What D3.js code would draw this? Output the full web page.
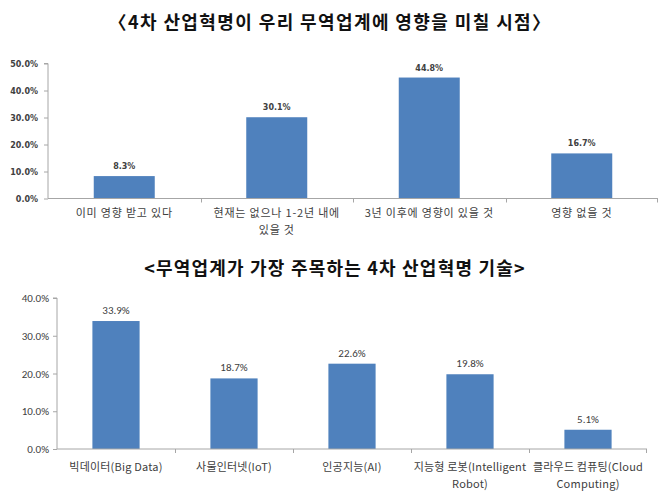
<!DOCTYPE html>
<html><head><meta charset="utf-8">
<script src="https://cdn.jsdelivr.net/npm/d3@7"></script>
<style>body{margin:0;background:#fff}svg{display:block}</style>
</head><body>
<svg id="c" width="658" height="493"></svg>
<script>
const title1 = "〈4차 산업혁명이 우리 무역업계에 영향을 미칠 시점〉";
const categories1 = ["이미 영향 받고 있다", "현재는 없으나 1-2년 내에\n있을 것", "3년 이후에 영향이 있을 것", "영향 없을 것"];
const values1 = [8.3, 30.1, 44.8, 16.7];
const ticks1 = [0, 10, 20, 30, 40, 50];

const title2 = "<무역업계가 가장 주목하는 4차 산업혁명 기술>";
const categories2 = ["빅데이터(Big Data)", "사물인터넷(IoT)", "인공지능(AI)", "지능형 로봇(Intelligent\nRobot)", "클라우드 컴퓨팅(Cloud\nComputing)"];
const values2 = [33.9, 18.7, 22.6, 19.8, 5.1];
const ticks2 = [0, 10, 20, 30, 40];

const svg = d3.select("#c");
const BAR = "#4F81BD", AX = "#a6a6a6", TXT = "#404040";
const KFONT = "'Noto Sans CJK KR', 'Noto Sans', sans-serif";

function values(o) { return o.cats.map((c, i) => ({c, v: o.vals[i]})); }

function drawChart(o) {
  const g = svg.append("g");
  const x = d3.scaleBand().domain(o.cats).range([o.x0, o.x1]).paddingInner(o.pad).paddingOuter(o.pad/2);
  const y = d3.scaleLinear().domain([0, o.max]).range([o.y0, o.y1]);
  const ya = g.append("g").attr("transform", `translate(${o.x0},0)`)
    .call(d3.axisLeft(y).tickValues(o.ticks).tickSize(4).tickFormat(d => d.toFixed(1) + "%"));
  ya.select(".domain").attr("stroke", AX).attr("d", `M-4,${o.y1}H0V${o.y0}`);
  ya.selectAll(".tick line").attr("stroke", AX);
  ya.selectAll("text").attr("fill", TXT).attr("font-family", o.tickFont).attr("font-size", o.tickSize)
    .attr("font-weight", o.tickWeight).attr("x", -o.tickGap);
  g.selectAll("rect").data(values(o)).join("rect")
    .attr("x", d => x(d.c)).attr("width", x.bandwidth())
    .attr("y", d => y(d.v)).attr("height", d => y(0) - y(d.v)).attr("fill", BAR);
  const xa = g.append("g").attr("transform", `translate(0,${o.y0})`);
  xa.append("line").attr("x1", o.x0).attr("x2", o.x1).attr("stroke", AX);
  const step = x.step();
  o.cats.forEach((c, i) => {
    if (i > 0) {
      const bx = Math.round(x(c) - x.paddingInner()*step/2) + 0.5;
      xa.append("line").attr("x1", bx).attr("x2", bx).attr("y1", 0).attr("y2", 4).attr("stroke", AX);
    }
  });
  xa.append("line").attr("x1", o.x1 - 0.5).attr("x2", o.x1 - 0.5).attr("y1", 0).attr("y2", 4).attr("stroke", AX);
  o.cats.forEach(c => {
    const lines = c.split("\n");
    const t = xa.append("text").attr("text-anchor", "middle").attr("fill", TXT)
      .attr("font-family", KFONT).attr("font-size", o.catSize).attr("letter-spacing", o.catLS);
    lines.forEach((l, k) => t.append("tspan").attr("x", x(c) + x.bandwidth()/2)
      .attr("y", o.catDY + k * o.catLH).text(l));
  });
  g.selectAll("text.v").data(values(o)).join("text").attr("class", "v")
    .attr("x", d => x(d.c) + x.bandwidth()/2).attr("y", d => y(d.v) - o.valGap)
    .attr("text-anchor", "middle").attr("fill", TXT).attr("font-family", o.tickFont)
    .attr("font-size", o.valSize).attr("font-weight", o.tickWeight)
    .text(d => d.v.toFixed(1) + "%");
}

svg.append("text").attr("x", 330).attr("y", 29).attr("text-anchor", "middle")
  .attr("font-family", "'Noto Sans CJK KR', serif").attr("font-size", 18).attr("font-weight", "bold")
  .attr("letter-spacing", 1.4).attr("fill", "#111").text(title1);
svg.append("text").attr("x", 335).attr("y", 275).attr("text-anchor", "middle")
  .attr("font-family", "'Noto Sans CJK KR', serif").attr("font-size", 18).attr("font-weight", "bold")
  .attr("letter-spacing", 1.2).attr("fill", "#111").text(title2);

drawChart({cats: categories1, vals: values1, ticks: ticks1, max: 50,
  x0: 48, x1: 658, y0: 198.5, y1: 63.5, pad: 0.6,
  tickFont: "Verdana, 'DejaVu Sans', sans-serif", tickSize: 8, tickWeight: "bold", tickGap: 10,
  valSize: 8, valGap: 7, catSize: 11, catLS: 0.8, catDY: 18, catLH: 17});

drawChart({cats: categories2, vals: values2, ticks: ticks2, max: 40,
  x0: 57, x1: 647, y0: 449, y1: 298, pad: 0.6,
  tickFont: "Calibri, Carlito, 'Liberation Sans', sans-serif", tickSize: 11, tickWeight: "normal", tickGap: 8,
  valSize: 11, valGap: 7, catSize: 11, catLS: 0.2, catDY: 22, catLH: 17});
</script>
</body></html>
